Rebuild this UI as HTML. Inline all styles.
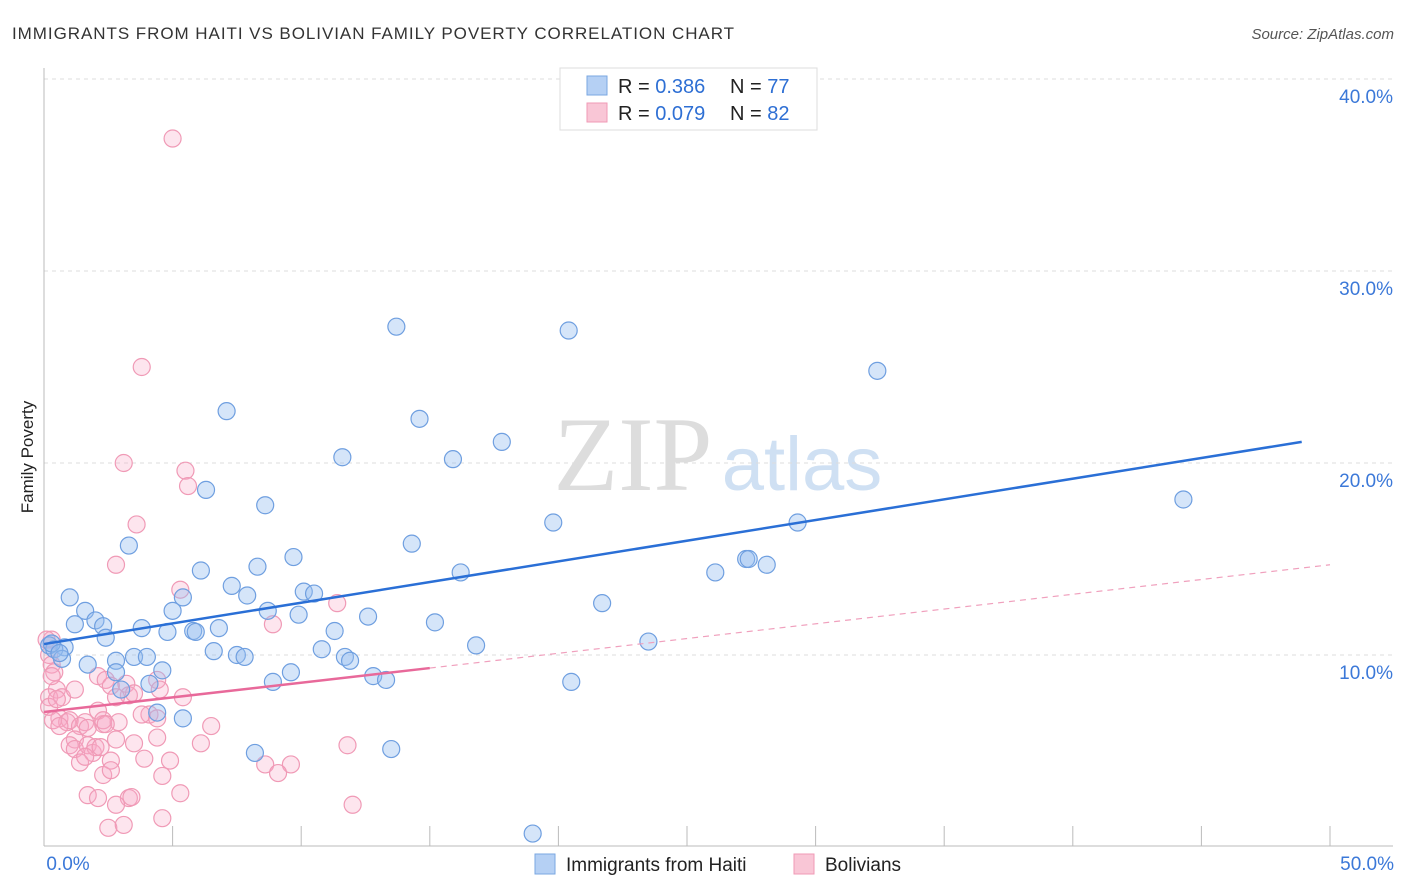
<!DOCTYPE html>
<html><head><meta charset="utf-8"><style>
body{margin:0;background:#fff;font-family:"Liberation Sans",sans-serif}
svg{display:block}
</style></head><body>
<svg id="chart" width="1406" height="892">
<text x="12" y="39" font-size="17" letter-spacing="0.95" fill="#333">IMMIGRANTS FROM HAITI VS BOLIVIAN FAMILY POVERTY CORRELATION CHART</text>
<text x="1394" y="39" font-size="15" fill="#555" font-style="italic" text-anchor="end">Source: ZipAtlas.com</text>
<text transform="translate(33,457) rotate(-90)" font-size="17" fill="#222" text-anchor="middle">Family Poverty</text>
<g>
<text x="633" y="490" font-size="106" font-family="Liberation Serif,serif" fill="#ddd" text-anchor="middle">ZIP</text>
<text x="802" y="490" font-size="76" fill="#cfe0f3" text-anchor="middle">atlas</text>
</g>
<g id="grid"></g><g id="axes"></g><g id="marks"></g>
<g>
<rect x="560" y="68" width="257" height="62" fill="#fff" stroke="#ddd"/>
<rect x="587" y="76" width="20" height="19" fill="#b5d0f4" stroke="#7aa7e2"/>
<rect x="587" y="103" width="20" height="19" fill="#f9c6d6" stroke="#f09ab6"/>
<text x="618" y="93" font-size="20" fill="#222">R = <tspan fill="#2e6fd4">0.386</tspan></text>
<text x="730" y="93" font-size="20" fill="#222">N = <tspan fill="#2e6fd4">77</tspan></text>
<text x="618" y="120" font-size="20" fill="#222">R = <tspan fill="#2e6fd4">0.079</tspan></text>
<text x="730" y="120" font-size="20" fill="#222">N = <tspan fill="#2e6fd4">82</tspan></text>
</g>
<g>
<rect x="535" y="854" width="20" height="20" fill="#b5d0f4" stroke="#7aa7e2"/>
<text x="566" y="871" font-size="19" fill="#222">Immigrants from Haiti</text>
<rect x="794" y="854" width="20" height="20" fill="#f9c6d6" stroke="#f09ab6"/>
<text x="825" y="871" font-size="19" fill="#222">Bolivians</text>
</g>
</svg>
<script>
const xTicks=[0,5,10,15,20,25,30,35,40,45,50];
const yTicks=[10,20,30,40];
const haitiX=[13.7,20.4,32.4,7.1,14.6,17.8,11.6,15.9,6.3,8.6,44.3,19.8,29.3,3.3,14.3,9.7,6.1,8.3,7.3,16.2,26.1,27.3,27.4,28.1,1.0,1.6,5.4,5.0,7.9,10.1,10.5,8.7,9.9,12.6,21.7,2.0,1.2,2.3,3.8,4.8,5.8,5.9,6.8,11.3,15.2,2.4,0.2,0.8,0.4,23.5,16.8,6.6,7.5,7.8,10.8,0.7,1.7,2.8,3.5,4.0,4.6,11.7,11.9,2.8,9.6,8.9,12.8,13.3,20.5,3.0,4.1,4.4,5.4,8.2,13.5,19.0,0.3,0.6];
const haitiY=[27.1,26.9,24.8,22.7,22.3,21.1,20.3,20.2,18.6,17.8,18.1,16.9,16.9,15.7,15.8,15.1,14.4,14.6,13.6,14.3,14.3,15.0,15.0,14.7,13.0,12.3,13.0,12.3,13.1,13.3,13.2,12.3,12.1,12.0,12.7,11.8,11.6,11.5,11.4,11.2,11.25,11.2,11.4,11.25,11.7,10.9,10.5,10.4,10.3,10.7,10.5,10.2,10.0,9.9,10.3,9.8,9.5,9.7,9.9,9.9,9.2,9.9,9.7,9.1,9.1,8.6,8.9,8.7,8.6,8.2,8.5,7.0,6.7,4.9,5.1,0.7,10.6,10.1];
const bolX=[5.0,3.8,3.1,5.5,5.6,3.6,2.8,5.3,11.4,8.9,0.3,0.2,0.3,0.4,0.5,0.2,0.7,1.2,0.2,0.5,2.1,2.4,2.6,3.2,3.3,2.8,3.5,4.4,4.5,5.4,4.1,3.8,4.4,0.6,0.9,1.0,1.4,1.6,1.7,2.3,2.9,2.1,2.3,2.4,6.5,1.2,1.0,1.2,1.7,1.9,2.0,2.8,3.5,4.4,6.1,11.8,1.4,1.6,2.2,2.6,3.9,4.9,8.6,9.6,2.3,2.6,4.6,9.1,1.7,2.1,3.3,3.4,5.3,2.8,12.0,2.5,3.1,4.6,0.3,0.1,0.35,0.6];
const bolY=[36.9,25.0,20.0,19.6,18.8,16.8,14.7,13.4,12.7,11.6,10.8,10.0,9.5,9.1,8.2,7.8,7.8,8.2,7.3,7.7,8.9,8.7,8.4,8.5,7.9,7.8,8.0,8.7,8.2,7.8,6.9,6.9,6.7,6.7,6.5,6.6,6.3,6.5,6.2,6.4,6.5,7.1,6.6,6.4,6.3,5.6,5.3,5.1,5.3,4.9,5.2,5.6,5.4,5.7,5.4,5.3,4.4,4.7,5.2,4.5,4.6,4.5,4.3,4.3,3.75,4.0,3.7,3.85,2.7,2.55,2.55,2.6,2.8,2.2,2.2,1.0,1.15,1.5,8.9,10.8,6.6,6.3];
const haitiTrend=[[0,10.57],[48.9,21.1]];
const bolTrendSolid=[[0,7.03],[15,9.32]];
const bolTrendDash=[[15,9.32],[50,14.7]];
const NS='http://www.w3.org/2000/svg';
const X=v=>44+v*25.72, Y=v=>847-v*19.2;
function mk(p,t,a){const e=document.createElementNS(NS,t);for(const k in a)e.setAttribute(k,a[k]);p.appendChild(e);return e;}
const grid=document.getElementById('grid'),axes=document.getElementById('axes'),marks=document.getElementById('marks');
yTicks.forEach(t=>{
 const l=mk(grid,'line',{x1:44,x2:1393,y1:Y(t),y2:Y(t),stroke:'#ddd','stroke-dasharray':'4,4'});
 
 
 const tx=mk(grid,'text',{x:1393,y:Y(t)+24,'font-size':19,fill:'#3b78d8','text-anchor':'end'});tx.textContent=t.toFixed(1)+'%';
 
 
});
mk(axes,'line',{x1:44,x2:44,y1:68,y2:846,stroke:'#bbb'});
mk(axes,'line',{x1:44,x2:1393,y1:846,y2:846,stroke:'#bbb'});
xTicks.forEach(t=>{
 const l=mk(axes,'line',{x1:X(t),x2:X(t),y1:826,y2:846,stroke:'#bbb'});
 
 
});
[[0,'0.0%',68,'middle'],[50,'50.0%',1394,'end']].forEach(([t,s,x,a])=>{
 const tx=mk(axes,'text',{x:x,y:870,'font-size':19,fill:'#3b78d8','text-anchor':a});tx.textContent=s;
 
 
});
bolX.forEach((v,i)=>{
 const c=mk(marks,'circle',{cx:X(v),cy:Y(bolY[i]),r:8.5,fill:'rgba(247,170,198,0.3)',stroke:'#f09ab6','stroke-width':1.2});
 
 
});
haitiX.forEach((v,i)=>{
 const c=mk(marks,'circle',{cx:X(v),cy:Y(haitiY[i]),r:8.5,fill:'rgba(150,190,240,0.4)',stroke:'#6f9fe0','stroke-width':1.2});
 
 
});
let l=mk(marks,'line',{x1:X(bolTrendDash[0][0]),y1:Y(bolTrendDash[0][1]),x2:X(bolTrendDash[1][0]),y2:Y(bolTrendDash[1][1]),stroke:'#f0a0bd','stroke-width':1.2,'stroke-dasharray':'6,5'});


l=mk(marks,'line',{x1:X(bolTrendSolid[0][0]),y1:Y(bolTrendSolid[0][1]),x2:X(bolTrendSolid[1][0]),y2:Y(bolTrendSolid[1][1]),stroke:'#e8699a','stroke-width':2.5});


l=mk(marks,'line',{x1:X(haitiTrend[0][0]),y1:Y(haitiTrend[0][1]),x2:X(haitiTrend[1][0]),y2:Y(haitiTrend[1][1]),stroke:'#2a6fd6','stroke-width':2.5});


</script>
</body></html>
